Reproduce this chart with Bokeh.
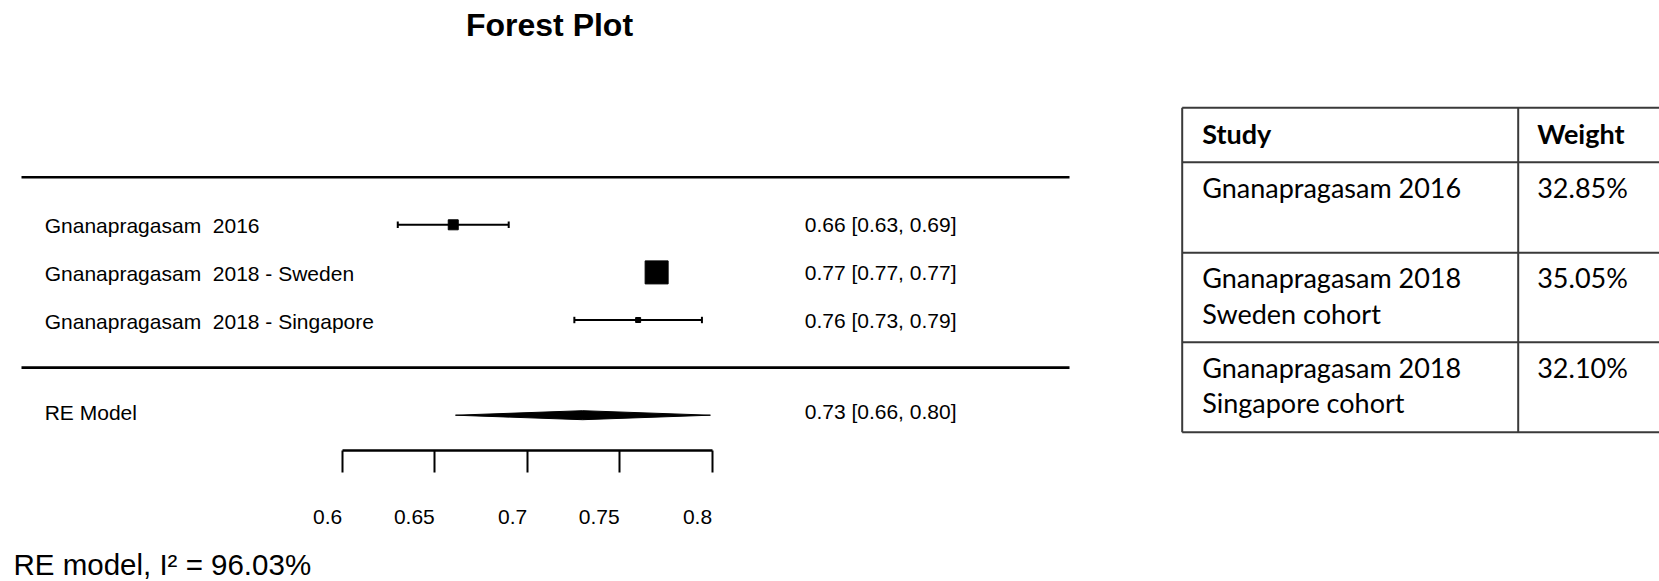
from bokeh.plotting import figure
from bokeh.models import Range1d, LinearAxis, FixedTicker
from bokeh.layouts import row
from bokeh.embed import file_html
from bokeh.resources import INLINE
from bokeh.core.properties import value

# ---------------- data ----------------
study_labels = ["Gnanapragasam\u00a0 2016", "Gnanapragasam\u00a0 2018 - Sweden", "Gnanapragasam\u00a0 2018 - Singapore"]
estimates = [0.66, 0.77, 0.76]
ci_lower = [0.63, 0.77, 0.7255]
ci_upper = [0.69, 0.77, 0.7945]
re_label = "RE Model"
re_estimate = 0.73
re_lower = 0.6612
re_upper = 0.7991
i_squared = 96.03
tick_values = [0.6, 0.65, 0.7, 0.75, 0.8]
tick_labels = ["0.6", "0.65", "0.7", "0.75", "0.8"]
table_header = ["Study", "Weight"]
table_studies = ["Gnanapragasam 2016", "Gnanapragasam 2018\nSweden cohort", "Gnanapragasam 2018\nSingapore cohort"]
table_weights = ["32.85%", "35.05%", "32.10%"]

# ---------------- styles / layout ----------------
box_sizes = [10, 23, 5]
W1, W2, H = 1148, 511, 581
PXU_X = 1849.0          # px per unit effect size
X0_PX = 341.8           # px of x = 0.6
PXU_Y = 47.6            # px per row
Y0_PX = 367.1           # px of row 0


def xd(px):
    return 0.6 + (px - X0_PX) / PXU_X


def yd(px):
    return (Y0_PX - px) / PXU_Y


k = len(study_labels)
rows = list(range(k, 0, -1))
re_row = -1
FONT = value("Liberation Sans")

p = figure(width=W1, height=H, x_range=Range1d(xd(0), xd(W1)), y_range=Range1d(yd(H), yd(0)),
           toolbar_location=None, output_backend="svg", x_axis_location=None, y_axis_location=None,
           min_border=0, outline_line_color=None, background_fill_color="white")
p.grid.visible = False

# separators
p.segment(x0=[xd(21)] * 2, x1=[xd(1069)] * 2, y0=[k + 1, 0], y1=[k + 1, 0], line_color="black", line_width=2.6)

# CIs
p.segment(x0=ci_lower, x1=ci_upper, y0=rows, y1=rows, line_color="black", line_width=2)
cap = 3.2 / PXU_Y
p.segment(x0=ci_lower + ci_upper, x1=ci_lower + ci_upper,
          y0=[r - cap for r in rows] * 2, y1=[r + cap for r in rows] * 2, line_color="black", line_width=2)
p.scatter(x=estimates, y=rows, size=box_sizes, marker="square", color="black")

# RE diamond
h = 4.5 / PXU_Y
p.patch(x=[re_lower, re_estimate, re_upper, re_estimate], y=[re_row, re_row + h, re_row, re_row - h],
        color="black", line_width=1)

# labels
vals = [f"{e:.2f} [{l:.2f}, {u:.2f}]" for e, l, u in zip(estimates, ci_lower, ci_upper)]
re_val = f"{re_estimate:.2f} [{re_lower:.2f}, {re_upper:.2f}]"
for ys, labs, vls, off in ((rows, study_labels, vals, 1), ([re_row], [re_label], [re_val], -3)):
    p.text(x=[xd(44.2)] * len(ys), y=ys, text=labs, text_font=FONT,
           text_font_size="21px", text_baseline="middle", text_align="left", y_offset=off, text_color="black")
    p.text(x=[xd(956)] * len(ys), y=ys, text=vls, text_font=FONT,
           text_font_size="21px", text_baseline="middle", text_align="right", y_offset=off - 1, text_color="black")

# title
p.text(x=[xd(549)], y=[yd(24.7)], text=["Forest Plot"], text_font=FONT, text_font_style="bold",
       text_font_size="32px", text_align="center", text_baseline="middle", text_color="black")

# I^2 note
p.text(x=[xd(13)], y=[yd(563.5)], text=[f"RE model, I\u00b2 = {i_squared:.2f}%"], text_font=FONT,
       text_font_size="29.5px", text_align="left", text_baseline="middle", text_color="black")

# x axis
ax = LinearAxis(fixed_location=yd(450), bounds=(0.6, 0.8), ticker=FixedTicker(ticks=tick_values, minor_ticks=[]),
                major_label_overrides={t: l for t, l in zip(tick_values, tick_labels)},
                axis_line_width=2.7, axis_line_color="black",
                major_tick_line_width=2, major_tick_line_color="black", major_tick_in=0, major_tick_out=22,
                minor_tick_in=0, minor_tick_out=0, major_label_standoff=44,
                major_label_orientation=0.0001,
                major_label_text_font="Liberation Sans", major_label_text_font_size="21px",
                major_label_text_color="black")
p.add_layout(ax, "below")

# ---------------- table ----------------
p2 = figure(width=W2, height=H, x_range=Range1d(0, W2), y_range=Range1d(H, 0),
            toolbar_location=None, output_backend="svg", x_axis_location=None, y_axis_location=None,
            min_border=0, outline_line_color=None, background_fill_color="white")
p2.grid.visible = False

t_left, t_div, t_right = 33.7, 369.7, 560
h_lines = [107.3, 161.7, 252.3, 341.7, 431.7]
LINE_C = "#3a3a3a"
p2.segment(x0=[t_left] * len(h_lines), x1=[t_right] * len(h_lines), y0=h_lines, y1=h_lines,
           line_color=LINE_C, line_width=2)
p2.segment(x0=[t_left, t_div], x1=[t_left, t_div], y0=[h_lines[0]] * 2, y1=[h_lines[-1]] * 2,
           line_color=LINE_C, line_width=2)

TFONT = value("Lato")
TSIZE = "27px"
col_x = [53.7, 388.7]
p2.text(x=col_x, y=[132.5] * 2, text=table_header, text_font=TFONT, text_font_style="bold",
        text_font_size=TSIZE, text_baseline="middle", text_color="black")

FIRST, STEP = 24.8, 35.8
sx, sy, st = [], [], []
for i, s in enumerate(table_studies):
    for j, line in enumerate(s.split("\n")):
        sx.append(col_x[0])
        sy.append(h_lines[i + 1] + FIRST + j * STEP)
        st.append(line)
p2.text(x=sx, y=sy, text=st, text_font=TFONT, text_font_size=TSIZE, text_baseline="middle",
        text_color="black")
p2.text(x=[col_x[1]] * len(table_weights), y=[h_lines[i + 1] + FIRST for i in range(len(table_weights))],
        text=table_weights, text_font=TFONT, text_font_size=TSIZE, text_baseline="middle",
        text_color="black")

layout = row(p, p2, spacing=0)
open("out.html", "w").write(file_html(layout, INLINE))
